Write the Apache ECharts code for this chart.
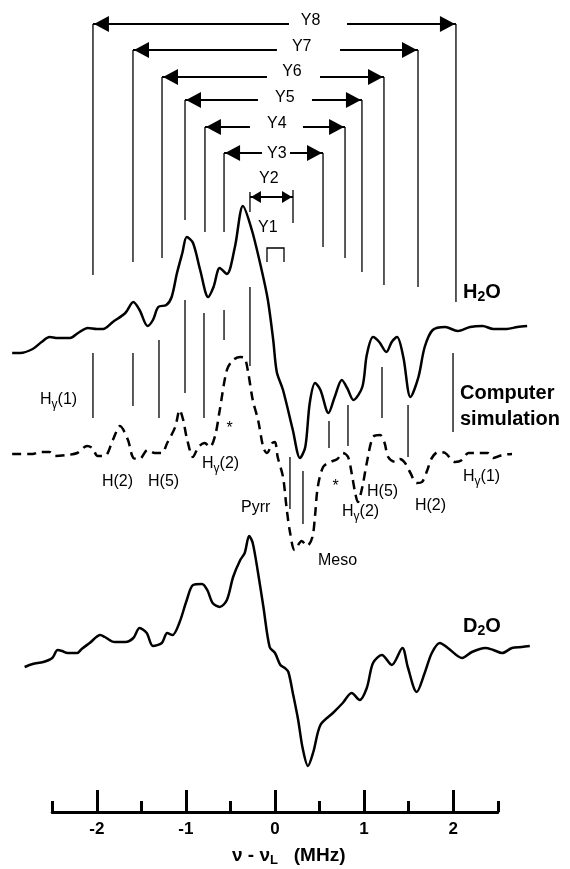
<!DOCTYPE html>
<html><head><meta charset="utf-8">
<script src="https://cdn.jsdelivr.net/npm/echarts@6/dist/echarts.min.js"></script>
<style>html,body{margin:0;padding:0;background:#fff}#c{width:570px;height:869px}</style>
</head><body><div id="c"></div>
<script>
// ---------- DATA (x in MHz = nu - nu_L ; y in arbitrary offset intensity units) ----------
const h2oX = [-2.95,-2.86,-2.72,-2.62,-2.53,-2.44,-2.30,-2.21,-2.10,-2.00,-1.93,-1.82,-1.68,-1.59,-1.52,-1.43,-1.37,-1.31,-1.22,-1.16,-1.10,-1.04,-0.99,-0.92,-0.84,-0.75,-0.69,-0.62,-0.54,-0.45,-0.36,-0.26,-0.15,-0.08,-0.02,0.02,0.09,0.20,0.28,0.34,0.39,0.45,0.51,0.60,0.67,0.75,0.81,0.88,0.98,1.03,1.10,1.17,1.25,1.31,1.37,1.44,1.52,1.61,1.68,1.77,1.91,2.05,2.19,2.33,2.45,2.60,2.72,2.83];
const h2oY = [459,459,463,470,475,474,474,479,484,483,483,490,499,510,502,486,492,505,507,515,539,559,575,569,542,515,525,544,538,565,606,582,542,512,472,440,422,382,354,365,409,429,422,399,415,432,424,412,425,457,475,470,460,470,475,455,415,435,465,482,485,481,485,486,483,483,485,486];

const simX = [-2.95,-2.72,-2.64,-2.53,-2.47,-2.33,-2.22,-2.11,-2.05,-1.99,-1.91,-1.82,-1.74,-1.65,-1.59,-1.52,-1.43,-1.35,-1.27,-1.21,-1.12,-1.07,-1.03,-0.99,-0.92,-0.86,-0.79,-0.73,-0.67,-0.62,-0.54,-0.47,-0.39,-0.34,-0.30,-0.25,-0.19,-0.13,-0.09,-0.03,0.00,0.03,0.09,0.13,0.17,0.22,0.30,0.36,0.42,0.45,0.48,0.54,0.62,0.70,0.76,0.82,0.86,0.90,0.93,0.98,1.03,1.10,1.18,1.23,1.27,1.35,1.40,1.46,1.52,1.59,1.65,1.71,1.76,1.83,1.91,2.02,2.10,2.17,2.28,2.39,2.45,2.55,2.66];
const simY = [358,358,360,360,356,357,359,366,364,356,356,372,386,372,354,353,362,359,359,369,385,402,392,374,355,365,369,365,377,402,442,452,455,454,439,412,392,364,359,369,370,355,335,304,279,262,271,266,275,297,325,345,350,353,359,355,339,319,310,325,349,375,377,369,355,350,353,349,339,329,330,342,354,360,359,350,352,359,359,359,354,357,358];

const d2oX = [-2.81,-2.72,-2.60,-2.50,-2.44,-2.39,-2.33,-2.22,-2.17,-2.08,-1.96,-1.91,-1.80,-1.68,-1.59,-1.52,-1.44,-1.37,-1.27,-1.21,-1.15,-1.07,-0.99,-0.92,-0.82,-0.76,-0.70,-0.62,-0.54,-0.47,-0.39,-0.34,-0.29,-0.25,-0.19,-0.13,-0.06,0.00,0.06,0.11,0.15,0.20,0.26,0.31,0.37,0.43,0.51,0.65,0.76,0.86,0.95,1.03,1.10,1.20,1.31,1.43,1.49,1.59,1.68,1.76,1.85,1.94,2.10,2.21,2.36,2.45,2.55,2.66,2.77,2.86];
const d2oY = [145,148,150,154,162,161,159,159,163,169,177,175,170,170,174,184,179,166,169,179,177,190,212,227,228,222,209,205,212,235,252,259,276,269,239,205,165,159,147,144,140,119,92,64,46,60,87,99,109,119,112,124,149,157,147,164,145,120,139,159,169,164,154,160,164,162,159,164,165,166];

// stick marks between the H2O and simulated spectra
const stickX      = [-2.043,-1.594,-1.302,-1.010,-0.797,-0.572,-0.281,0.168,0.314,0.606,0.819,1.201,1.493];
const stickTop    = [459,459,472,512,499,502,525,355,341,391,407,445,407];
const stickBottom = [394,406,394,419,394,472,446,303,288,364,366,394,355];
const simBarX = [1.998], simBarTop = [459], simBarBottom = [380];

// Y2..Y8 coupling arrows
const arrowNames = ['Y8','Y7','Y6','Y5','Y4','Y3','Y2'];
const arrowLeft  = [-2.043,-1.594,-1.268,-1.010,-0.786,-0.572,-0.281];
const arrowRight = [2.031,1.605,1.223,0.976,0.786,0.539,0.202];
const arrowLevel = [788,762,735,712,685,659,615];
const arrowGapL  = [0.157,0.022,-0.090,-0.191,-0.281,-0.146,0];
const arrowGapR  = [0.808,0.730,0.505,0.415,0.314,0.168,0];
const arrowLeftFoot  = [537,550,554,592,580,580,600];
const arrowRightFoot = [510,525,527,540,554,565,589];
const arrowRise  = [0,0,0,0,0,0,5];
const arrowLabelX = [0.40,0.30,0.19,0.11,0.02,0.02,-0.07];
const arrowLabelY = [791,765,740,714,688,658,633];
// Y1 bracket
const y1Bracket = {left:-0.090, right:0.101, top:564, foot:550, labelX:-0.08, labelY:584};

// peak assignment labels
const peakLabels = ['Hγ(1)','H(2)','H(5)','Hγ(2)','*','Pyrr','Meso','*','H(5)','Hγ(2)','H(2)','Hγ(1)'];
const peakLabelX = [-2.637,-1.942,-1.425,-0.819,-0.545,-0.382,0.483,0.645,1.033,0.752,1.571,2.110];
const peakLabelY = [412,330,330,348,383,304,251,325,320,300,306,335];

// trace labels
const traceLabels = ['H2O','D2O','Computer','simulation'];
const traceLabelX = [2.110,2.110,2.076,2.076];
const traceLabelY = [520,186,419,393];

// axis ticks
const majorTicks = [-2,-1,0,1,2];
const minorTicks = [-2.5,-1.5,-0.5,0.5,1.5,2.5];

// ---------- LAYOUT ----------
const FONT = '"Liberation Sans", Arial, Helvetica, sans-serif';
const X0 = 275, PX = 89.1, AXIS_Y = 812;
const zip = (a,b) => a.map((v,i)=>[v,b[i]]);

function richText(s, bold){
  if (s === 'H2O' || s === 'D2O') return '{b|' + s[0] + '}{bs|2}{b|O}';
  if (bold) return '{b|' + s + '}';
  if (s.indexOf('Hγ') === 0) return '{n|H}{s|γ}{n|' + s.slice(2) + '}';
  return '{n|' + s + '}';
}
const rich = {
  n: {fontSize:16, fontFamily:FONT, fill:'#000', color:'#000'},
  s: {fontSize:12, fontFamily:FONT, fill:'#000', color:'#000', padding:[9,0,0,0]},
  b: {fontSize:20, fontWeight:'bold', fontFamily:FONT, fill:'#000', color:'#000'},
  bs:{fontSize:14, fontWeight:'bold', fontFamily:FONT, fill:'#000', color:'#000', padding:[11,0,0,0]}
};

const lineStyle = {stroke:'#000', lineWidth:1.3};

const chart = echarts.init(document.getElementById('c'), null, {renderer:'canvas'});
const option = {
  animation:false,
  backgroundColor:'#fff',
  grid:[
    {left:X0-3*PX, width:6*PX, top:0, height:AXIS_Y},
    {left:X0-2.5*PX, width:5*PX, top:AXIS_Y-20, height:20},
    {left:X0-2.5*PX, width:5*PX, top:AXIS_Y-20, height:20}
  ],
  xAxis:[
    {gridIndex:0, type:'value', min:-3, max:3, show:false},
    {gridIndex:1, type:'value', min:-2.5, max:2.5, position:'bottom',
     axisLine:{show:true, lineStyle:{color:'#000', width:3}},
     axisTick:{show:true, inside:true, length:22, customValues:majorTicks, lineStyle:{color:'#000', width:3}},
     axisLabel:{show:true, customValues:majorTicks, color:'#000', fontSize:17, fontWeight:'bold', fontFamily:FONT, margin:9},
     splitLine:{show:false}},
    {gridIndex:2, type:'value', min:-2.5, max:2.5, position:'bottom',
     axisLine:{show:false},
     axisTick:{show:true, inside:true, length:11, customValues:minorTicks, lineStyle:{color:'#000', width:3}},
     axisLabel:{show:false}, splitLine:{show:false}}
  ],
  yAxis:[
    {gridIndex:0, type:'value', min:0, max:AXIS_Y, show:false},
    {gridIndex:1, type:'value', min:0, max:1, show:false},
    {gridIndex:2, type:'value', min:0, max:1, show:false}
  ],
  graphic:[
    {type:'text', left:232, top:846, style:{text:'{b|ν - ν}{l|L}{b|   (MHz)}', rich:{
      b:{fontSize:19, fontWeight:'bold', fontFamily:FONT, fill:'#000'},
      l:{fontSize:13, fontWeight:'bold', fontFamily:FONT, fill:'#000', padding:[9,0,0,0]}}}}
  ],
  series:[
    {type:'line', xAxisIndex:0, yAxisIndex:0, data:zip(h2oX,h2oY), symbol:'none', smooth:0.3,
     lineStyle:{color:'#000', width:2.5}, z:3},
    {type:'line', xAxisIndex:0, yAxisIndex:0, data:zip(simX,simY), symbol:'none', smooth:0.3,
     lineStyle:{color:'#000', width:2.5, type:[9,6]}, z:3},
    {type:'line', xAxisIndex:0, yAxisIndex:0, data:zip(d2oX,d2oY), symbol:'none', smooth:0.3,
     lineStyle:{color:'#000', width:2.5}, z:3},
    // stick marks
    {type:'custom', xAxisIndex:0, yAxisIndex:0, silent:true, clip:false, z:4,
     data: stickX.map((x,i)=>[x, stickTop[i], stickBottom[i]]).concat(simBarX.map((x,i)=>[x, simBarTop[i], simBarBottom[i], 1])),
     encode:{x:0, y:[1,2]},
     renderItem(params, api){
       const a = api.coord([api.value(0), api.value(1)]);
       const b = api.coord([api.value(0), api.value(2)]);
       const thick = api.value(3) === 1;
       return {type:'line', shape:{x1:a[0], y1:a[1], x2:b[0], y2:b[1]},
               style:{stroke:'#000', lineWidth: thick ? 2.4 : 1.3}};
     }},
    // arrows
    {type:'custom', xAxisIndex:0, yAxisIndex:0, silent:true, clip:false, z:4,
     data: arrowNames.map((n,i)=>[arrowLeft[i], arrowRight[i], arrowLevel[i], arrowGapL[i], arrowGapR[i], arrowLeftFoot[i], arrowRightFoot[i], arrowRise[i]]),
     encode:{x:[0,1], y:2},
     renderItem(params, api){
       const i = params.dataIndex;
       const xl = api.value(0), xr = api.value(1), lv = api.value(2);
       const rise = api.value(7);
       const pL = api.coord([xl, lv]), pR = api.coord([xr, lv]);
       const tL = api.coord([xl, lv + rise]), tR = api.coord([xr, lv + rise * 1.4]);
       const fL = api.coord([xl, api.value(5)]), fR = api.coord([xr, api.value(6)]);
       const small = i === arrowNames.length - 1;
       const len = small ? 10 : 15, h = small ? 6 : 8;
       const ch = [];
       ch.push({type:'line', shape:{x1:tL[0], y1:tL[1], x2:fL[0], y2:fL[1]}, style:lineStyle});
       ch.push({type:'line', shape:{x1:tR[0], y1:tR[1], x2:fR[0], y2:fR[1]}, style:lineStyle});
       const gL = api.coord([api.value(3), lv]), gR = api.coord([api.value(4), lv]);
       if (api.value(3) === api.value(4)) {
         ch.push({type:'line', shape:{x1:pL[0], y1:pL[1], x2:pR[0], y2:pR[1]}, style:{stroke:'#000', lineWidth:1.8}});
       } else {
         ch.push({type:'line', shape:{x1:pL[0], y1:pL[1], x2:gL[0], y2:gL[1]}, style:{stroke:'#000', lineWidth:1.8}});
         ch.push({type:'line', shape:{x1:gR[0], y1:gR[1], x2:pR[0], y2:pR[1]}, style:{stroke:'#000', lineWidth:1.8}});
       }
       ch.push({type:'polygon', shape:{points:[[pL[0]+1, pL[1]], [pL[0]+1+len, pL[1]-h], [pL[0]+1+len, pL[1]+h]]}, style:{fill:'#000'}});
       ch.push({type:'polygon', shape:{points:[[pR[0]-1, pR[1]], [pR[0]-1-len, pR[1]-h], [pR[0]-1-len, pR[1]+h]]}, style:{fill:'#000'}});
       return {type:'group', children:ch};
     }},
    // Y1 bracket
    {type:'custom', xAxisIndex:0, yAxisIndex:0, silent:true, clip:false, z:4,
     data:[[y1Bracket.left, y1Bracket.right, y1Bracket.top, y1Bracket.foot]],
     encode:{x:[0,1], y:[2,3]},
     renderItem(params, api){
       const a = api.coord([api.value(0), api.value(3)]);
       const b = api.coord([api.value(0), api.value(2)]);
       const c = api.coord([api.value(1), api.value(2)]);
       const d = api.coord([api.value(1), api.value(3)]);
       return {type:'polyline', shape:{points:[a,b,c,d]}, style:{stroke:'#000', lineWidth:1.3, fill:null}};
     }},
    // text labels
    {type:'custom', xAxisIndex:0, yAxisIndex:0, silent:true, clip:false, z:6,
     data: arrowNames.map((n,i)=>[arrowLabelX[i], arrowLabelY[i], n, 'c'])
       .concat([[y1Bracket.labelX, y1Bracket.labelY, 'Y1', 'c']])
       .concat(peakLabels.map((n,i)=>[peakLabelX[i], peakLabelY[i], n, 'l']))
       .concat(traceLabels.map((n,i)=>[traceLabelX[i], traceLabelY[i], n, 'B'])),
     dimensions:['x','y','t','k'],
     encode:{x:0, y:1},
     renderItem(params, api){
       const p = api.coord([api.value(0), api.value(1)]);
       const item = option.series[params.seriesIndex].data[params.dataIndex];
       const bold = item[3] === 'B';
       return {type:'text', x:p[0], y:p[1],
               style:{text: richText(item[2], bold), rich: rich,
                      align: item[3] === 'c' ? 'center' : 'left', verticalAlign:'middle',
                      fontFamily:FONT, fontSize:16, fill:'#000'}};
     }}
  ]
};
chart.setOption(option);
</script>
</body></html>
